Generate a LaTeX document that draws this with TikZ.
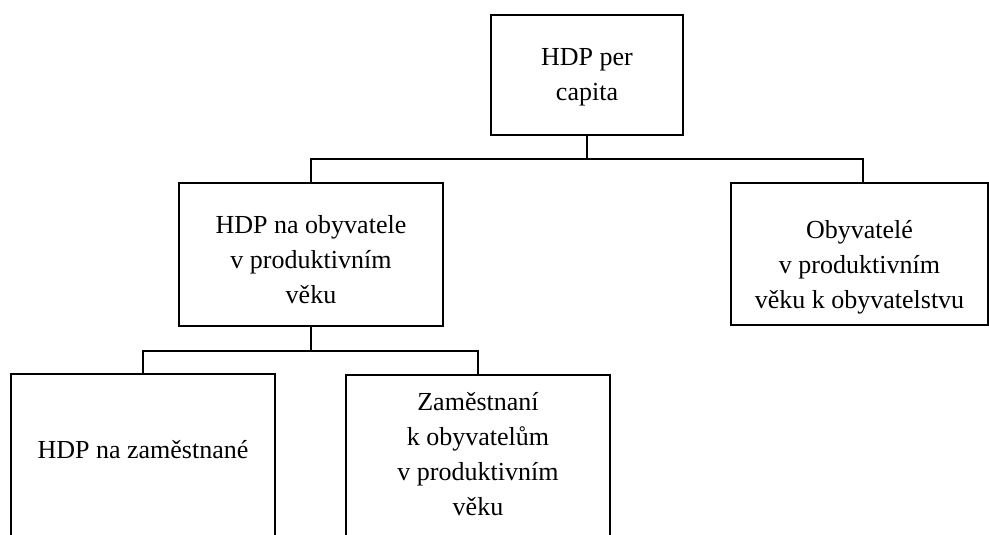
\documentclass[tikz,border=0pt]{standalone}
\usepackage{fontspec}
\setmainfont{Liberation Serif}
\begin{document}
\begin{tikzpicture}[x=1pt,y=-1pt,
  box/.style={draw, line width=1.5pt, inner sep=0pt},
  lbl/.style={font=\fontsize{26}{35}\selectfont, align=center, inner sep=0pt},
  wire/.style={line width=1.5pt}]
\useasboundingbox (0,0) rectangle (989,535);
\clip (0,0) rectangle (989,535);
% boxes
\node[box, minimum width=192pt, minimum height=120pt] (top) at (587,75) {};
\node[lbl] (ttop) at (587,77.4) {HDP per\\capita};
\node[box, minimum width=264pt, minimum height=143pt] (lm) at (311,254.5) {};
\node[lbl] (tlm) at (311,260.1) {HDP na obyvatele\\v produktivním\\věku};
\node[box, minimum width=257pt, minimum height=142pt] (rt) at (859.5,254) {};
\node[lbl] (trt) at (859.5,267.4) {Obyvatelé\\v produktivním\\věku k obyvatelstvu};
\node[box, minimum width=264pt, minimum height=200pt] (bl) at (143,474) {};
\node[lbl] (tbl) at (143,449.1) {HDP na zaměstnané};
\node[box, minimum width=264pt, minimum height=200pt] (bm) at (478,475) {};
\node[lbl] (tbm) at (478,453.6) {Zaměstnaní\\k obyvatelům\\v produktivním\\věku};
% connectors
\coordinate (j1) at (587,159);
\coordinate (j2) at (311,351);
\draw[wire] (top.south) -- (j1);
\draw[wire] (lm.north) |- (j1) -| ([xshift=3.5pt]rt.north);
\draw[wire] (lm.south) -- (j2);
\draw[wire] (bl.north) |- (j2) -| (bm.north);
\end{tikzpicture}
\end{document}
